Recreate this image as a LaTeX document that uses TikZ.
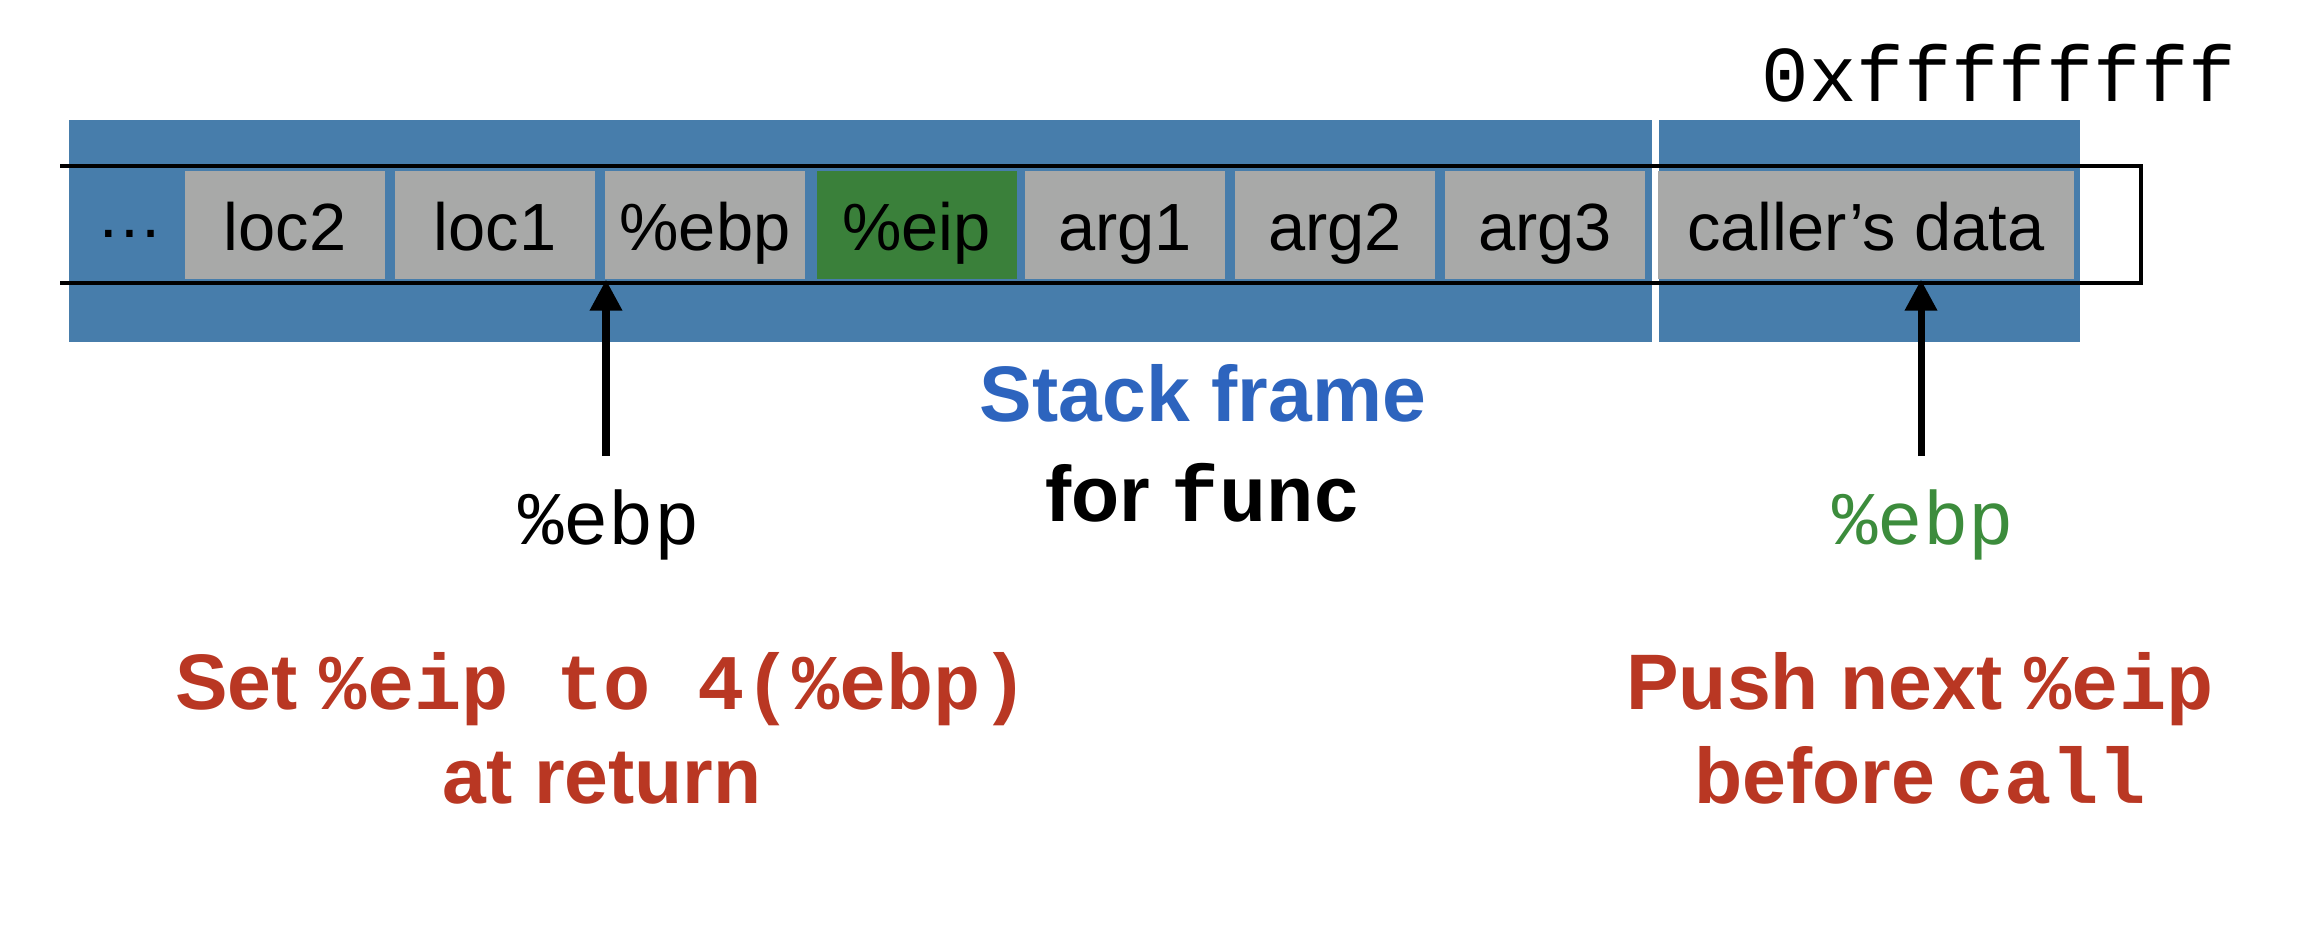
\documentclass[tikz,border=0pt]{standalone}
\usepackage{fontspec}
\setmainfont{Liberation Sans}
\setmonofont{Liberation Mono}
\usetikzlibrary{arrows.meta}
\definecolor{bandblue}{RGB}{71,125,171}
\definecolor{slotgray}{RGB}{168,169,168}
\definecolor{retgreen}{RGB}{58,128,58}
\definecolor{titleblue}{RGB}{45,100,190}
\definecolor{ptrgreen}{RGB}{60,140,60}
\definecolor{notered}{RGB}{185,55,35}
\tikzset{
  band/.style={fill=bandblue, inner sep=0pt, minimum height=2.22cm},
  slot/.style={fill=slotgray, inner sep=0pt, minimum width=2.0cm, minimum height=1.08cm, text height=19pt, text depth=4.75pt, font=\fontsize{19}{22}\selectfont},
  kret/.style={slot, fill=retgreen},
  rim/.style={line width=0.9pt},
  ptr/.style={-{Triangle[width=0.31cm, length=0.31cm]}, line width=2pt},
  reg/.style={font=\fontsize{21.5}{24}\selectfont\ttfamily},
  big/.style={font=\fontsize{22.4}{26.7}\selectfont\bfseries, align=center},
  knote/.style={big, text=notered},
}

\begin{document}
\begin{tikzpicture}
    \useasboundingbox (0,0) rectangle (23.00,-9.26);
    \node[band, minimum width=15.83cm] (frame) at (8.605,-2.31) {};
    \node[band, minimum width=4.21cm] (older) at (18.695,-2.31) {};
    \draw[rim] (0.60,-1.66) -- (21.41,-1.66) -- (21.41,-2.83) -- (0.60,-2.83);
    \node[inner sep=0pt, font=\fontsize{19}{22}\selectfont] (more) at (1.295,-2.34) {…};
    \node[slot] (loc2) at (2.85,-2.25) {loc2};
    \node[slot] (loc1) at (4.95,-2.25) {loc1};
    \node[slot] (ebp) at (7.05,-2.25) {\%ebp};
    \node[kret] (eip) at (9.165,-2.25) {\%eip};
    \node[slot] (arg1) at (11.25,-2.25) {arg1};
    \node[slot] (arg2) at (13.35,-2.25) {arg2};
    \node[slot] (arg3) at (15.45,-2.25) {arg3};
    \node[slot, minimum width=4.16cm] (caller) at (18.66,-2.25) {caller’s data};
    \node[font=\fontsize{22.5}{26}\selectfont\ttfamily] (top) at (19.99,-0.73) {0xffffffff};
    \node[big, text=titleblue] (title) at (12.03,-3.93) {Stack frame};
    \node[big] (sub) at (12.03,-4.93) {for \texttt{func}};
    \coordinate (lptr) at (6.06,-4.56);
    \coordinate (rptr) at (19.21,-4.56);
    \draw[ptr] (lptr) -- (lptr |- ebp.south);
    \draw[ptr] (rptr) -- (rptr |- caller.south);
    \node[reg] (oldebp) at (6.09,-5.25) {\%ebp};
    \node[reg, text=ptrgreen] (newebp) at (19.23,-5.25) {\%ebp};
    \node[knote] (ret) at (6.02,-7.28) {Set \texttt{\%eip to 4(\%ebp)}\\at return};
    \node[knote] (call) at (19.20,-7.28) {Push next \texttt{\%eip}\\before \texttt{call}};
\end{tikzpicture}
\end{document}
